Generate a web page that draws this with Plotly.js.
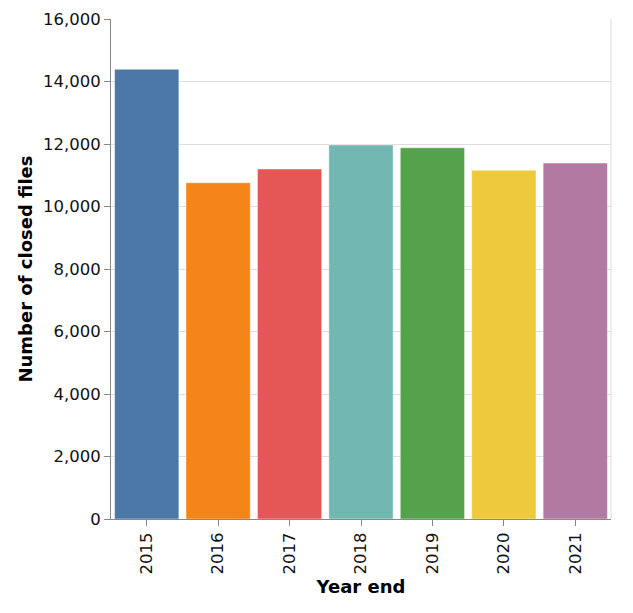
<!DOCTYPE html>
<html>
<head>
<meta charset="utf-8">
<script src="https://cdn.plot.ly/plotly-3.0.1.min.js"></script>
<style>html,body{margin:0;padding:0;background:#fff;}#chart{width:633px;height:613px;}</style>
</head>
<body>
<div id="chart"></div>
<script>
const years = ["2015", "2016", "2017", "2018", "2019", "2020", "2021"];
const closedFiles = [14390, 10760, 11200, 11970, 11880, 11160, 11390];
const barColors = ["#4c78a8", "#f58518", "#e45756", "#72b7b2", "#54a24b", "#eeca3b", "#b279a2"];
const yTicks = [0, 2000, 4000, 6000, 8000, 10000, 12000, 14000, 16000];

const trace = {
  type: "bar",
  x: years,
  y: closedFiles,
  marker: { color: barColors, line: { color: "rgba(255,255,255,0.45)", width: 1 } },
  hoverinfo: "x+y"
};

const font = "DejaVu Sans, sans-serif";
const layout = {
  width: 633, height: 613,
  margin: { l: 111, r: 22, t: 19, b: 94 },
  paper_bgcolor: "#fff", plot_bgcolor: "#fff",
  bargap: 0.1,
  showlegend: false,
  font: { family: font, size: 16.5, color: "#000" },
  xaxis: {
    type: "category",
    tickangle: -90,
    ticks: "outside", ticklen: 6, tickcolor: "#888", tickwidth: 1,
    showline: true, linecolor: "#888", linewidth: 1,
    showgrid: false,
    tickfont: { family: font, size: 16.5, color: "#111" },
    title: { text: "<b>Year end</b>", font: { family: font, size: 18, color: "#000" }, standoff: 6 }
  },
  yaxis: {
    range: [0, 16000],
    tickvals: yTicks,
    tickformat: ",d",
    ticks: "outside", ticklen: 6, tickcolor: "#888", tickwidth: 1,
    showline: true, linecolor: "#888", linewidth: 1,
    showgrid: true, gridcolor: "#ddd", gridwidth: 1,
    zeroline: false,
    tickfont: { family: font, size: 16.5, color: "#111" },
    title: { text: "<b>Number of closed files</b>", font: { family: font, size: 18, color: "#000" }, standoff: 5 }
  },
  shapes: [
    { type: "line", xref: "paper", yref: "paper", x0: 1, x1: 1, y0: 0, y1: 1, line: { color: "#ddd", width: 1 } }
  ]
};

Plotly.newPlot("chart", [trace], layout, { displayModeBar: false, staticPlot: true });
</script>
</body>
</html>
